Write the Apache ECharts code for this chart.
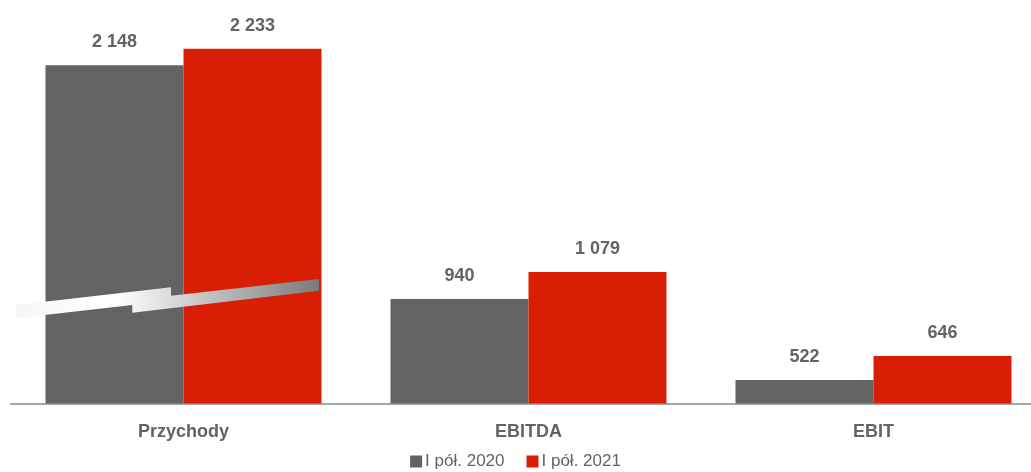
<!DOCTYPE html>
<html>
<head>
<meta charset="utf-8">
<script src="https://cdn.jsdelivr.net/npm/echarts@6/dist/echarts.min.js"></script>
<style>
  html, body { margin: 0; padding: 0; background: #ffffff; }
  #chart { width: 1031px; height: 472px; }
</style>
</head>
<body>
<div id="chart"></div>
<script>
// Wyniki za I półrocze (mln zł)
const categories = ['Przychody', 'EBITDA', 'EBIT'];
const seriesNames = ['I pół. 2020', 'I pół. 2021'];
const values2020 = [2148, 940, 522];
const values2021 = [2233, 1079, 646];

const GREY = '#636363';
const RED = '#D91E06';
const TEXT = '#636363';
const FONT = '"Liberation Sans", Arial, sans-serif';

// 2 148 style thousands separator
function fmt(v) {
  return String(v).replace(/\B(?=(\d{3})+(?!\d))/g, ' ');
}

const chart = echarts.init(document.getElementById('chart'), null, { renderer: 'canvas' });

const valueLabel = {
  show: true,
  position: 'top',
  distance: 14,
  color: TEXT,
  fontFamily: FONT,
  fontWeight: 'bold',
  fontSize: 18,
  formatter: p => fmt(p.value)
};

chart.setOption({
  animation: false,
  backgroundColor: '#ffffff',
  // plot runs past the right edge so the last band is cut like the others
  grid: {
    left: 11, width: 1035, top: 16.5, bottom: 68.5,
    containLabel: false, outerBoundsMode: 'none'
  },
  legend: {
    data: seriesNames,
    top: 448,
    left: 'center',
    itemWidth: 12,
    itemHeight: 12,
    itemGap: 22,
    icon: 'rect',
    textStyle: { color: TEXT, fontFamily: FONT, fontSize: 17, padding: [0, 0, 0, -2] }
  },
  xAxis: {
    type: 'category',
    data: categories,
    axisLine: { show: true, lineStyle: { color: '#a6a6a6', width: 2 } },
    axisTick: { show: false },
    axisLabel: {
      color: TEXT,
      fontFamily: FONT,
      fontWeight: 'bold',
      fontSize: 18,
      margin: 20
    },
    splitLine: { show: false }
  },
  yAxis: {
    type: 'value',
    min: 400,
    max: 2400,
    show: false,
    splitLine: { show: false }
  },
  series: [
    {
      name: seriesNames[0],
      type: 'bar',
      data: values2020,
      barGap: '0%',
      barCategoryGap: '20%',
      itemStyle: { color: GREY },
      label: valueLabel
    },
    {
      name: seriesNames[1],
      type: 'bar',
      data: values2021,
      barGap: '0%',
      barCategoryGap: '20%',
      itemStyle: { color: RED },
      label: valueLabel
    }
  ]
});

// Axis-break marker across the Przychody pair
const cx = chart.convertToPixel({ xAxisIndex: 0 }, categories[0]);
const by = chart.convertToPixel({ yAxisIndex: 0 }, 400);
const breakShape = [
  [-167.5, -98.5], [-12.5, -116.2], [-12.5, -107.8], [135.5, -124.5],
  [135.5, -112.8], [-51.2, -90.8], [-51.2, -98.5], [-167.5, -85.2]
].map(([dx, dy]) => [cx + dx, by + dy]);

chart.setOption({
  graphic: [{
    type: 'polygon',
    z: 100,
    shape: { points: breakShape },
    style: {
      fill: new echarts.graphic.LinearGradient(0, 0, 1, 0, [
        { offset: 0, color: '#f6f6f6' },
        { offset: 0.33, color: '#ffffff' },
        { offset: 1, color: '#7a7a7a' }
      ])
    }
  }]
});
</script>
</body>
</html>
